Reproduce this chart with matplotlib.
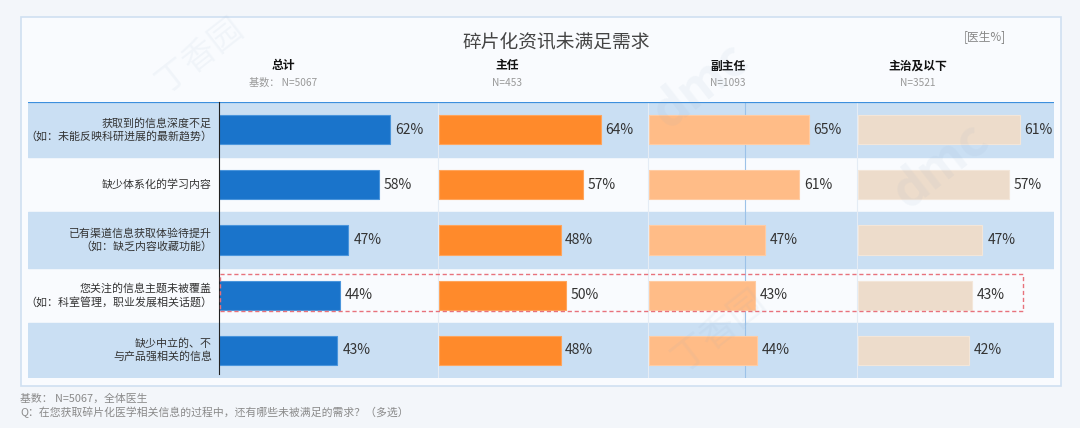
import matplotlib
matplotlib.use("Agg")
import matplotlib.pyplot as plt
from matplotlib.patches import Rectangle

plt.rcParams['font.family'] = ['Noto Sans CJK SC', 'DejaVu Sans']

# data
row_labels = ["获取到的信息深度不足\n（如：未能反映科研进展的最新趋势）",
              "缺少体系化的学习内容",
              "已有渠道信息获取体验待提升\n（如：缺乏内容收藏功能）",
              "您关注的信息主题未被覆盖\n（如：科室管理，职业发展相关话题）",
              "缺少中立的、不\n与产品强相关的信息"]
groups = ["总计", "主任", "副主任", "主治及以下"]
group_bases = ["基数： N=5067", "N=453", "N=1093", "N=3521"]
total_vals = [62, 58, 47, 44, 43]
zhuren_vals = [64, 57, 48, 50, 48]
fuzhuren_vals = [65, 61, 47, 43, 44]
zhuzhi_vals = [61, 57, 47, 43, 42]

W, H = 1080, 428


def fx(x):
    return x / W


def fy(y):
    return 1 - y / H


def box(x0, y0, x1, y1):
    return [fx(x0), fy(y1), fx(x1) - fx(x0), fy(y0) - fy(y1)]


fig = plt.figure(figsize=(10.8, 4.28), dpi=100)
fig.patch.set_facecolor("#f3f6fa")

# outer panel
fig.patches.append(Rectangle((fx(21), fy(386)), fx(1061) - fx(21), fy(17) - fy(386),
                             transform=fig.transFigure, facecolor="#f9fbfe",
                             edgecolor="#cfe0f1", lw=1.2, zorder=-5))

row_top, row_bot = 102, 378
n = len(row_labels)

# background bands + labels
bg = fig.add_axes(box(28, row_top, 1054, row_bot))
bg.set_xlim(0, 1)
bg.set_ylim(n - 0.5, -0.5)
bg.axis("off")
for i in range(n):
    if i % 2 == 0:
        bg.axhspan(i - 0.5, i + 0.5, color="#cadff3", zorder=0)
    bg.text((212 - 28) / 1026, i, row_labels[i], ha="right", va="center",
            fontsize=7.9, color="#333333", linespacing=1.25)
bg.axhline(-0.5, color="#3c8fdd", lw=1.6)
for xp, c in [(438, "#e4ecf5"), (648, "#e4ecf5"), (745, "#9cc2e8"), (857, "#e4ecf5")]:
    bg.axvline((xp - 28) / 1026, color=c, lw=0.8, zorder=0.5)

panels = [
    (219, 438, 79.5, total_vals, "#1a74cb", "#4a95dc"),
    (439, 648, 82.5, zhuren_vals, "#ff8a2b", "#ffa55c"),
    (649, 857, 84.4, fuzhuren_vals, "#ffbc87", "#ffcca3"),
    (858, 1054, 74.0, zhuzhi_vals, "#eddccb", "#f3e6d9"),
]
for k, (x0, x1, xmax, vals, col, ecol) in enumerate(panels):
    ax = fig.add_axes(box(x0, row_top, x1, row_bot))
    ax.patch.set_alpha(0)
    ax.set_xlim(0, xmax)
    ax.set_ylim(n - 0.5, -0.5)
    ax.barh(range(n), vals, height=0.53, color=col, edgecolor=ecol, lw=0.8)
    for i, v in enumerate(vals):
        ax.text(v + 1.8, i, f"{v}%", va="center", ha="left", fontsize=10, color="#333333")
    ax.set_xticks([])
    ax.set_yticks([])
    for s in ax.spines.values():
        s.set_visible(False)
    if k == 0:
        ax.spines["left"].set_visible(True)
        ax.spines["left"].set_color("#222222")
        ax.spines["left"].set_bounds(-0.5, 4.43)

# highlight box around row 4
fig.patches.append(Rectangle((fx(220), fy(311)), fx(1023) - fx(220), fy(274) - fy(311),
                             transform=fig.transFigure, fill=False, edgecolor="#e8727c",
                             lw=1, ls=(0, (3, 2)), zorder=5))

# header
fig.text(fx(556), fy(42), "碎片化资讯未满足需求", ha="center", va="center",
         fontsize=13.5, color="#444444")
fig.text(fx(985), fy(37), "[医生%]", ha="center", va="center", fontsize=8.5, color="#888888")
for gx, g, b in zip([283, 507, 728, 918], groups, group_bases):
    fig.text(fx(gx), fy(66), g, ha="center", va="center", fontsize=8.5,
             fontweight="bold", color="#111111")
    fig.text(fx(gx), fy(83), b, ha="center", va="center", fontsize=7.3, color="#999999")

# footer
fig.text(fx(20), fy(399), "基数： N=5067，全体医生", ha="left", va="center",
         fontsize=7.8, color="#8a8a8a")
fig.text(fx(20), fy(412), "Q：在您获取碎片化医学相关信息的过程中，还有哪些未被满足的需求？（多选）",
         ha="left", va="center", fontsize=7.8, color="#8a8a8a")

# faint watermarks
for wx, wy, t, fs in [(200, 55, "丁香园", 24), (720, 330, "丁香园", 26),
                      (700, 85, "dmc", 36), (940, 165, "dmc", 36)]:
    fig.text(fx(wx), fy(wy), t, ha="center", va="center", fontsize=fs, rotation=38,
             color="#8aa6c4", alpha=0.08, fontweight="bold" if t == "dmc" else "normal")

fig.savefig("out.png", dpi=100, facecolor=fig.get_facecolor())
